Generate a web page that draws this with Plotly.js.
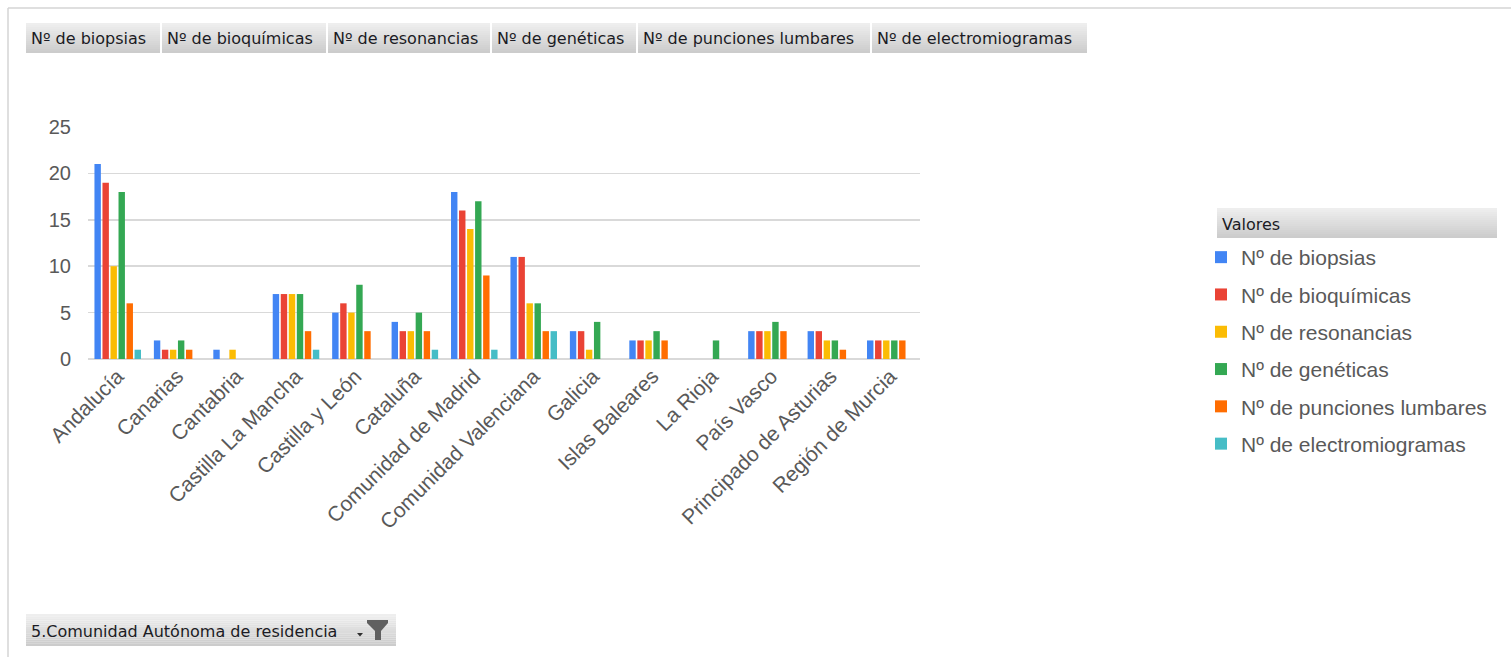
<!DOCTYPE html>
<html>
<head>
<meta charset="utf-8">
<script src="https://cdn.plot.ly/plotly-3.0.1.min.js"></script>
<style>
html,body{margin:0;padding:0;background:#fff;}
#chart{width:1511px;height:657px;}
</style>
</head>
<body>
<div id="chart"></div>
<script>
const categories = ["Andalucía","Canarias","Cantabria","Castilla La Mancha","Castilla y León","Cataluña","Comunidad de Madrid","Comunidad Valenciana","Galicia","Islas Baleares","La Rioja","País Vasco","Principado de Asturias","Región de Murcia"];
const seriesNames = ["Nº de biopsias","Nº de bioquímicas","Nº de resonancias","Nº de genéticas","Nº de punciones lumbares","Nº de electromiogramas"];
const biopsias      = [21,2,1,7,5,4,18,11,3,2,0,3,3,2];
const bioquimicas   = [19,1,0,7,6,3,16,11,3,2,0,3,3,2];
const resonancias   = [10,1,1,7,5,3,14,6,1,2,0,3,2,2];
const geneticas     = [18,2,0,7,8,5,17,6,4,3,2,4,2,2];
const punciones     = [6,1,0,3,3,3,9,3,0,2,0,3,1,2];
const electromiog   = [1,0,0,1,0,1,1,3,0,0,0,0,0,0];
const yTicks = [0,5,10,15,20,25];
const fieldButtons = ["Nº de biopsias","Nº de bioquímicas","Nº de resonancias","Nº de genéticas","Nº de punciones lumbares","Nº de electromiogramas"];
const legendHeader = "Valores";
const filterLabel = "5.Comunidad Autónoma de residencia";

const colors = ["#4285F4","#EA4335","#FBBC04","#34A853","#FF6D01","#46BDC6"];
const allSeries = [biopsias,bioquimicas,resonancias,geneticas,punciones,electromiog];

const W=1511,H=657;
const L=88,R=920,T=127,B=359;
const pw=R-L, ph=B-T;
const px = x => (x-L)/pw;
const py = y => (B-y)/ph;
const FONT = "'Liberation Sans', Arial, sans-serif";
const BTNFONT = "'DejaVu Sans', Verdana, sans-serif";

const traces = allSeries.map((vals,i)=>({
  type:'bar', x:categories, y:vals, name:seriesNames[i],
  marker:{color:colors[i]}, legendgroup:'g'+i, hoverinfo:'x+y+name'
}));

const shapes=[];
const annotations=[];
shapes.push({type:'line',xref:'paper',yref:'paper',x0:px(8),x1:px(1511),y0:py(8),y1:py(8),line:{color:'#d4d4d4',width:1.5}});
shapes.push({type:'line',xref:'paper',yref:'paper',x0:px(8),x1:px(8),y0:py(8),y1:py(657),line:{color:'#d4d4d4',width:1.5}});

function button(x0,x1,y0,y1,text,size){
  const n=15;
  for(let k=0;k<n;k++){
    const c=Math.round(238-(k/(n-1))*34);
    const ya=y0+(y1-y0)*k/n, yb=y0+(y1-y0)*(k+1)/n;
    shapes.push({type:'rect',xref:'paper',yref:'paper',x0:px(x0),x1:px(x1),y0:py(ya),y1:py(yb),fillcolor:`rgb(${c},${c},${c})`,line:{width:0},layer:'below'});
  }
  annotations.push({xref:'paper',yref:'paper',x:px(x0+3),y:py((y0+y1)/2+1),xanchor:'left',yanchor:'middle',text:text,showarrow:false,font:{family:BTNFONT,size:size,color:'#1b1b24'}});
}
const btnX=[[26,160],[162,326],[328,490],[492,636],[638,870],[872,1087]];
fieldButtons.forEach((t,i)=>button(btnX[i][0],btnX[i][1],23,53,t,16));
button(1217,1497,208,238,legendHeader,16);
button(26,396,614,646,filterLabel,16);
const fp=(pts)=>'M '+pts.map(p=>px(p[0])+','+py(p[1])).join(' L ')+' Z';
shapes.push({type:'path',xref:'paper',yref:'paper',path:fp([[367,620],[388,620],[388,623],[381,631],[381,640],[375,640],[375,631],[367,623]]),fillcolor:'#606060',line:{width:0}});
shapes.push({type:'path',xref:'paper',yref:'paper',path:fp([[357,633],[363,633],[360,636.5]]),fillcolor:'#303030',line:{width:0}});

const layout={
  width:W,height:H,
  margin:{l:L,r:W-R,t:T,b:H-B,pad:0},
  paper_bgcolor:'#fff',plot_bgcolor:'#fff',
  barmode:'group',bargap:0.19,bargroupgap:0.2,
  font:{family:FONT,color:'#595959'},
  xaxis:{type:'category',tickangle:-45,tickfont:{size:21,color:'#595959',family:FONT},showgrid:false,showline:false,ticks:'',zeroline:false,automargin:false},
  yaxis:{range:[0,25],tickvals:yTicks,tickfont:{size:20,color:'#595959',family:FONT},gridcolor:'#d9d9d9',gridwidth:1.5,zeroline:true,zerolinecolor:'#d9d9d9',zerolinewidth:1.5,showline:false,ticks:'',ticklabelstandoff:16,automargin:false},
  showlegend:true,
  legend:{x:px(1201),y:py(237),xanchor:'left',yanchor:'top',font:{size:21,color:'#595959',family:FONT},traceorder:'grouped',tracegroupgap:7,itemwidth:30,bgcolor:'rgba(0,0,0,0)'},
  shapes:shapes,annotations:annotations
};
Plotly.newPlot('chart',traces,layout,{displayModeBar:false,staticPlot:true});
</script>
</body>
</html>
